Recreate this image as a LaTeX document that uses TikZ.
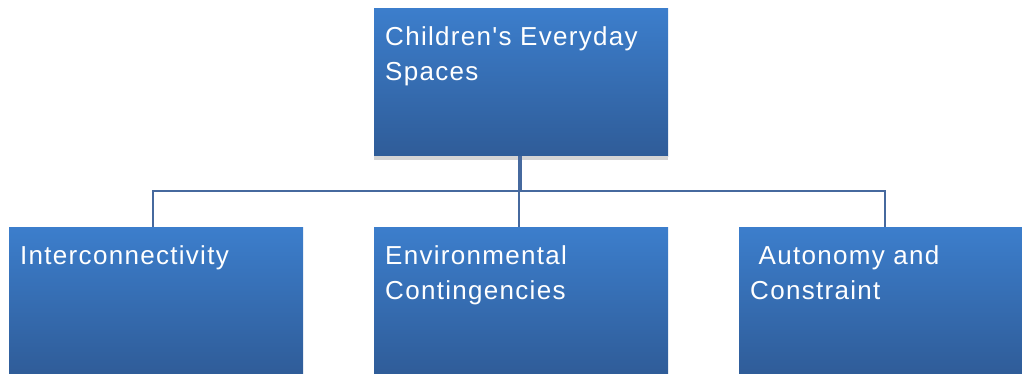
\documentclass[tikz,border=0pt]{standalone}
\usepackage{fontspec}
\setmainfont{Liberation Sans}
\newfontfamily\boxfont[LetterSpace=5]{Liberation Sans}
\definecolor{boxtop}{RGB}{60,126,204}
\definecolor{boxmid}{RGB}{56,116,190}
\definecolor{boxbot}{RGB}{47,92,152}
\definecolor{linkblue}{RGB}{70,105,158}
\definecolor{shadowgray}{RGB}{212,212,212}
\tikzset{
  topic/.style={rectangle,inner sep=0pt,minimum width=294pt,minimum height=148pt,
    anchor=north west,top color=boxtop,middle color=boxmid,bottom color=boxbot},
  topictext/.style={anchor=base west,inner sep=0pt,text=white,align=left,
    font=\boxfont\fontsize{26}{35}\selectfont},
  link/.style={draw=linkblue,line width=2pt}
}
\begin{document}
\begin{tikzpicture}[x=1pt,y=-1pt]
\useasboundingbox (0,0) rectangle (1022,374);
\clip (0,0) rectangle (1022,374);
% boxes
\node[topic] (spaces) at (374,8) {};
\node[topic] (inter) at (9,227) {};
\node[topic] (env) at (374,227) {};
\node[topic] (auto) at (739,227) {};
\fill[shadowgray]
  (spaces.south west) rectangle ([yshift=-4pt]spaces.south east);
% labels (base = last line, so two lines sit 35pt lower)
\node[topictext] (spaces-txt) at ([xshift=11pt,yshift=-73pt]spaces.north west)
  {Children's Everyday\\Spaces};
\node[topictext] (inter-txt) at ([xshift=11pt,yshift=-37.3pt]inter.north west)
  {Interconnectivity};
\node[topictext] (env-txt) at ([xshift=11pt,yshift=-72.3pt]env.north west)
  {Environmental\\Contingencies};
\node[topictext] (auto-txt) at ([xshift=11pt,yshift=-72.3pt]auto.north west)
  {\ Autonomy and\\Constraint};
% connectors
\draw[link] ([xshift=-2pt]spaces.south) -- ([xshift=-2pt]env.north);
\draw[link] (spaces.south) -- ++(0,35) -| ([xshift=-3pt]inter.north);
\draw[link] (spaces.south) -- ++(0,35) -| ([xshift=-1pt]auto.north);
\end{tikzpicture}
\end{document}
